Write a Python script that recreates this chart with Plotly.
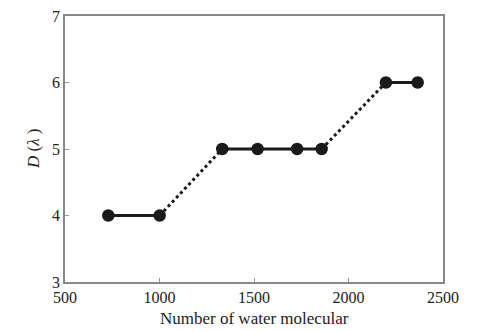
import plotly.graph_objects as go

water_molecules = [729, 1001, 1332, 1519, 1728, 1858, 2198, 2366]
d_lambda = [4, 4, 5, 5, 5, 5, 6, 6]
x_ticks = [500, 1000, 1500, 2000, 2500]
y_ticks = [3, 4, 5, 6, 7]

solid_x, solid_y, dot_x, dot_y = [], [], [], []
for i in range(len(water_molecules) - 1):
    seg_x = [water_molecules[i], water_molecules[i + 1], None]
    seg_y = [d_lambda[i], d_lambda[i + 1], None]
    if d_lambda[i] == d_lambda[i + 1]:
        solid_x += seg_x; solid_y += seg_y
    else:
        dot_x += seg_x; dot_y += seg_y

fig = go.Figure()
fig.add_trace(go.Scatter(x=solid_x, y=solid_y, mode="lines",
                         line=dict(color="#1a1a1a", width=3), connectgaps=False,
                         showlegend=False, hoverinfo="skip"))
fig.add_trace(go.Scatter(x=dot_x, y=dot_y, mode="lines",
                         line=dict(color="#1a1a1a", width=3, dash="dot"), connectgaps=False,
                         showlegend=False, hoverinfo="skip"))
fig.add_trace(go.Scatter(x=water_molecules, y=d_lambda, mode="markers",
                         marker=dict(color="#1a1a1a", size=12.5),
                         showlegend=False))

font = dict(family="Liberation Serif, Times New Roman, serif", color="#222222", size=16)
title_font = dict(font, size=17)
axis_common = dict(showline=True, linecolor="#888888", linewidth=1.5, mirror=True,
                   showgrid=False, zeroline=False, ticks="inside", ticklen=4,
                   tickcolor="#999999", tickfont=font, automargin=False)
fig.update_layout(
    width=482, height=332,
    margin=dict(l=65, r=39, t=16, b=50),
    paper_bgcolor="white", plot_bgcolor="white",
    font=font,
    xaxis=dict(range=[500, 2500], tickvals=x_ticks, ticktext=[str(v) for v in x_ticks],
               **axis_common),
    yaxis=dict(range=[3, 7], tickvals=y_ticks, ticktext=[str(v) for v in y_ticks],
               **axis_common),
    annotations=[
        dict(text="Number of water molecular", xref="paper", yref="paper", x=0.5, y=0,
             xanchor="center", yanchor="middle", yshift=-36, showarrow=False, font=title_font),
        dict(text="<i>D</i> (<i>λ</i> )", xref="paper", yref="paper", x=0, y=0.5,
             xanchor="center", yanchor="middle", xshift=-32, textangle=-90,
             showarrow=False, font=title_font),
    ],
)
fig.write_html("out.html")
